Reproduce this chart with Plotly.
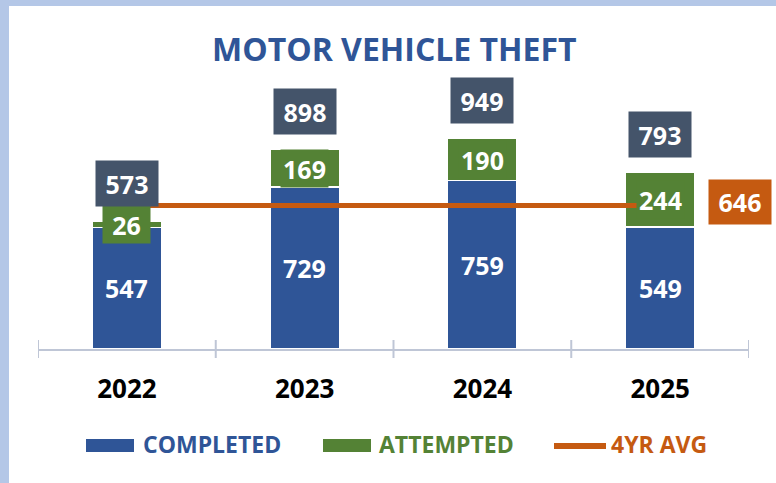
import plotly.graph_objects as go

years = ["2022", "2023", "2024", "2025"]
completed = [547, 729, 759, 549]
attempted = [26, 169, 190, 244]
avg_4yr = 646
title_text = "MOTOR VEHICLE THEFT"
legend_names = ["COMPLETED", "ATTEMPTED", "4YR AVG"]

BLUE = "#2f5597"
GREEN = "#548235"
ORANGE = "#c55a11"
SLATE = "#44546a"
AXIS = "#bfc6d6"
BORDER = "#b4c7e7"
FONT = "Open Sans"

W, H = 776, 483
ML, MR, MT, MB = 38, 27, 60, 134
PW, PH = W - ML - MR, H - MT - MB


def px_x(p):
    return (p - ML) / PW


def px_y(p):
    return (H - MB - p) / PH


totals = [c + a for c, a in zip(completed, attempted)]

fig = go.Figure()
fig.add_trace(go.Bar(x=years, y=completed, name=legend_names[0], marker=dict(color=BLUE, line=dict(color="white", width=1.5)), showlegend=False, hoverinfo="skip"))
fig.add_trace(go.Bar(x=years, y=attempted, name=legend_names[1], marker=dict(color=GREEN, line=dict(color="white", width=1.5)), showlegend=False, hoverinfo="skip"))
fig.add_trace(go.Scatter(x=years, y=[avg_4yr] * len(years), mode="lines", name=legend_names[2], line=dict(color=ORANGE, width=5), showlegend=False, hoverinfo="skip"))

ann = []
lab_font = dict(family=FONT, size=25, color="white", weight="bold")
for i, (c, a, t) in enumerate(zip(completed, attempted, totals)):
    ann.append(dict(x=i, y=c / 2, text=str(c), showarrow=False, font=lab_font))
    ann.append(dict(x=i, y=c + a / 2, text=str(a), showarrow=False, font=lab_font,
                    bgcolor=GREEN, width=47, height=37, borderpad=0, valign="middle"))
    ann.append(dict(x=i, y=t, yshift=38, text=str(t), showarrow=False, font=lab_font,
                    bgcolor=SLATE, width=62, height=45, borderpad=0, valign="middle"))
ann.append(dict(x=len(years) - 1, y=avg_4yr, xshift=80, yshift=3, text=str(avg_4yr), showarrow=False,
                font=lab_font, bgcolor=ORANGE, width=62, height=44, borderpad=0, valign="middle"))

# legend (custom)
leg_font = dict(family=FONT, size=23, weight="bold")
ly = 444
ann.append(dict(xref="paper", yref="paper", x=px_x(141), y=px_y(ly), xanchor="left", yanchor="middle",
                text=legend_names[0], showarrow=False, font=dict(leg_font, color=BLUE)))
ann.append(dict(xref="paper", yref="paper", x=px_x(377), y=px_y(ly), xanchor="left", yanchor="middle",
                text=legend_names[1], showarrow=False, font=dict(leg_font, color=GREEN)))
ann.append(dict(xref="paper", yref="paper", x=px_x(609), y=px_y(ly), xanchor="left", yanchor="middle",
                text=legend_names[2], showarrow=False, font=dict(leg_font, color=ORANGE)))
ann.append(dict(xref="paper", yref="paper", x=px_x(394), y=px_y(48), xanchor="center", yanchor="middle",
                text=title_text, showarrow=False, font=dict(family=FONT, size=32, weight="bold", color=BLUE)))

shapes = [
    dict(type="rect", xref="paper", yref="paper", x0=px_x(0), x1=px_x(9), y0=px_y(H + 20), y1=px_y(-5), fillcolor=BORDER, line=dict(width=0), layer="below"),
    dict(type="rect", xref="paper", yref="paper", x0=px_x(0), x1=px_x(W + 10), y0=px_y(6), y1=px_y(-5), fillcolor=BORDER, line=dict(width=0), layer="below"),
    dict(type="rect", xref="paper", yref="paper", x0=px_x(86), x1=px_x(134), y0=px_y(439), y1=px_y(452), fillcolor=BLUE, line=dict(width=0)),
    dict(type="rect", xref="paper", yref="paper", x0=px_x(323), x1=px_x(371), y0=px_y(439), y1=px_y(452), fillcolor=GREEN, line=dict(width=0)),
    dict(type="line", xref="paper", yref="paper", x0=px_x(554), x1=px_x(606), y0=px_y(446), y1=px_y(446), line=dict(color=ORANGE, width=6)),
]
for i in range(len(years) + 1):
    shapes.append(dict(type="line", xref="x", yref="paper", x0=i - 0.5, x1=i - 0.5,
                       y0=px_y(340), y1=px_y(358), line=dict(color=AXIS, width=2)))

fig.update_layout(
    width=W, height=H, barmode="stack", bargap=0.61,
    margin=dict(l=ML, r=MR, t=MT, b=MB, autoexpand=False),
    paper_bgcolor="white", plot_bgcolor="rgba(0,0,0,0)",
    showlegend=False, annotations=ann, shapes=shapes,
    xaxis=dict(type="category", range=[-0.5, len(years) - 0.5], showline=True, linecolor=AXIS, linewidth=2,
               ticks="", showgrid=False, ticklabelstandoff=16,
               tickfont=dict(family=FONT, size=26, color="black", weight="bold")),
    yaxis=dict(range=[0, 1300], visible=False, showgrid=False),
)

fig.write_html("out.html", config={"displayModeBar": False},
               post_script="document.body.style.margin='0';document.body.style.overflow='hidden';")
